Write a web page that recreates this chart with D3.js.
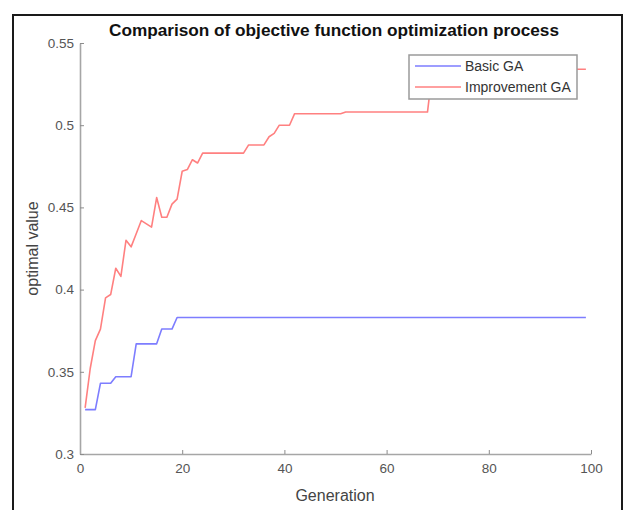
<!DOCTYPE html>
<html>
<head>
<meta charset="utf-8">
<script src="https://cdn.jsdelivr.net/npm/d3@7"></script>
<style>
  html, body { margin: 0; padding: 0; background: #fff; }
  svg { display: block; }
  text { font-family: "Liberation Sans", Arial, Helvetica, sans-serif; }
</style>
</head>
<body>
<svg id="chart" width="624" height="510"></svg>
<script>
// Best objective value per generation (generations 1..99)
const generations = d3.range(1, 100);

const basicGA = [
  0.327, 0.327, 0.327,                 // 1-3
  0.343, 0.343, 0.343,                 // 4-6
  0.347, 0.347, 0.347, 0.347,          // 7-10
  0.367, 0.367, 0.367, 0.367, 0.367,   // 11-15
  0.376, 0.376, 0.376,                 // 16-18
  ...Array(81).fill(0.383)             // 19-99
];

const improvedGA = [
  0.328, 0.352, 0.369, 0.376, 0.395, 0.397, 0.413, 0.408, 0.430, 0.426, // 1-10
  0.434, 0.442, 0.440, 0.438, 0.456, 0.444, 0.444, 0.452, 0.455, 0.472, // 11-20
  0.473, 0.479, 0.477,                                                   // 21-23
  ...Array(9).fill(0.483),   // 24-32
  ...Array(4).fill(0.488),   // 33-36
  0.493, 0.495, 0.500, 0.500, 0.500, // 37-41
  ...Array(10).fill(0.507),  // 42-51
  ...Array(17).fill(0.508),  // 52-68
  ...Array(31).fill(0.534)   // 69-99
];

const xTicks = [0, 20, 40, 60, 80, 100];
const yTicks = [0.3, 0.35, 0.4, 0.45, 0.5, 0.55];
const seriesNames = ["Basic GA", "Improvement GA"];
const seriesColors = ["#7d7dff", "#ff8080"];

const svg = d3.select("#chart");

// outer figure frame
svg.append("rect")
  .attr("x", 13).attr("y", 15)
  .attr("width", 609).attr("height", 520)
  .attr("fill", "none")
  .attr("stroke", "#1a1a1a")
  .attr("stroke-width", 2);

const plot = { left: 80, right: 591, top: 43, bottom: 454 };

const x = d3.scaleLinear().domain([0, 100]).range([plot.left, plot.right]);
const y = d3.scaleLinear().domain([0.3, 0.55]).range([plot.bottom, plot.top]);

// axes (ticks point inward)
const xAxis = d3.axisBottom(x)
  .tickValues(xTicks)
  .tickFormat(d3.format("d"))
  .tickSizeInner(-4).tickSizeOuter(0).tickPadding(9);
const yAxis = d3.axisLeft(y)
  .tickValues(yTicks)
  .tickFormat(d => d3.format("")(+d.toFixed(2)))
  .tickSizeInner(-4).tickSizeOuter(0).tickPadding(6);

const gx = svg.append("g")
  .attr("transform", `translate(0,${plot.bottom})`)
  .call(xAxis);
const gy = svg.append("g")
  .attr("transform", `translate(${plot.left},0)`)
  .call(yAxis);

[gx, gy].forEach(g => {
  g.select(".domain").attr("stroke", "#a6a6a6").attr("stroke-width", 1.6);
  g.selectAll(".tick line").attr("stroke", "#8c8c8c").attr("stroke-width", 1);
  g.selectAll(".tick text")
    .attr("fill", "#555")
    .style("font-size", "13.5px");
});

// series lines
const line = d3.line()
  .x((d, i) => x(generations[i]))
  .y(d => y(d));

[basicGA, improvedGA].forEach((vals, k) => {
  svg.append("path")
    .datum(vals)
    .attr("d", line)
    .attr("fill", "none")
    .attr("stroke", seriesColors[k])
    .attr("stroke-width", 1.6)
    .attr("stroke-linejoin", "round");
});

// title and axis labels
svg.append("text")
  .attr("x", 334).attr("y", 36)
  .attr("text-anchor", "middle")
  .attr("textLength", 450)
  .attr("lengthAdjust", "spacingAndGlyphs")
  .style("font-size", "16px")
  .style("font-weight", "bold")
  .attr("fill", "#111")
  .text("Comparison of objective function optimization process");

svg.append("text")
  .attr("x", 335).attr("y", 501)
  .attr("text-anchor", "middle")
  .style("font-size", "16px")
  .attr("fill", "#444")
  .text("Generation");

svg.append("text")
  .attr("transform", `translate(38,${(plot.top + plot.bottom) / 2}) rotate(-90)`)
  .attr("text-anchor", "middle")
  .style("font-size", "16px")
  .attr("fill", "#444")
  .text("optimal value");

// legend
const legend = svg.append("g");
legend.append("rect")
  .attr("x", 409).attr("y", 55)
  .attr("width", 168).attr("height", 44)
  .attr("fill", "#fff")
  .attr("stroke", "#9a9a9a")
  .attr("stroke-width", 1.5);

seriesNames.forEach((name, k) => {
  const ly = 66 + k * 21;
  legend.append("line")
    .attr("x1", 415).attr("x2", 461)
    .attr("y1", ly).attr("y2", ly)
    .attr("stroke", seriesColors[k])
    .attr("stroke-width", 1.6);
  legend.append("text")
    .attr("x", 465).attr("y", ly + 5)
    .style("font-size", "14px")
    .attr("fill", "#333")
    .text(name);
});
</script>
</body>
</html>
